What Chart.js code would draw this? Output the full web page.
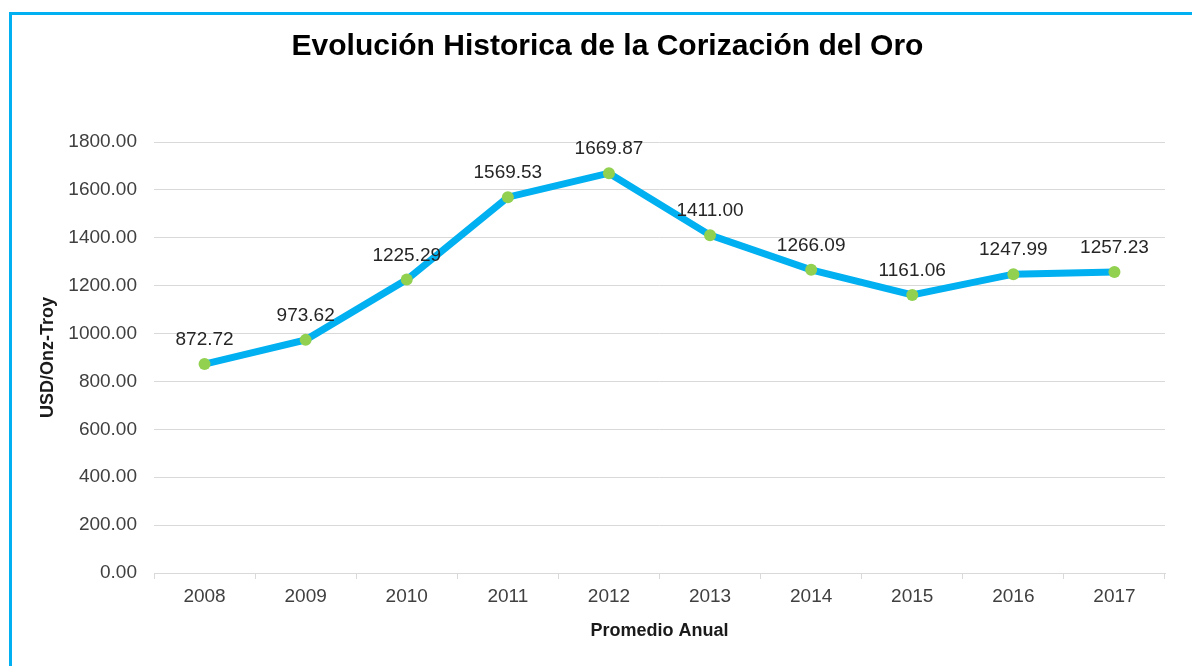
<!DOCTYPE html>
<html>
<head>
<meta charset="utf-8">
<script src="https://cdn.jsdelivr.net/npm/chart.js@4.4.1/dist/chart.umd.min.js"></script>
<style>
  html, body { margin: 0; padding: 0; background: #fff; }
  body { width: 1192px; height: 666px; position: relative; overflow: hidden; }
  #frame { position: absolute; left: 9px; top: 12px; right: 0; bottom: 0;
           border-top: 3px solid #00B0F0; border-left: 3px solid #00B0F0; }
  #wrap { position: absolute; left: 0; top: 0; width: 1192px; height: 666px; }
</style>
</head>
<body>
<div id="frame"></div>
<div id="wrap"><canvas id="c" width="1192" height="666"></canvas></div>
<script>
const chartTitle = "Evolución Historica de la Corización del Oro";
const years = ["2008","2009","2010","2011","2012","2013","2014","2015","2016","2017"];
const goldPrice = [872.72, 973.62, 1225.29, 1569.53, 1669.87, 1411.00, 1266.09, 1161.06, 1247.99, 1257.23];
const yTitle = "USD/Onz-Troy";
const xTitle = "Promedio Anual";
const yMin = 0, yMax = 1800, yStep = 200;

const FONT = "'Liberation Sans', Arial, sans-serif";

const labelPlugin = {
  id: 'pointLabels',
  afterDatasetsDraw(chart) {
    const ctx = chart.ctx;
    const meta = chart.getDatasetMeta(0);
    ctx.save();
    ctx.font = "19px " + FONT;
    ctx.fillStyle = "#262626";
    ctx.textAlign = "center";
    ctx.textBaseline = "middle";
    meta.data.forEach((pt, i) => {
      ctx.fillText(goldPrice[i].toFixed(2), pt.x, pt.y - 24);
    });
    ctx.restore();
  }
};

const LEFT = 50;

new Chart(document.getElementById('c'), {
  type: 'line',
  data: {
    labels: years,
    datasets: [{
      data: goldPrice,
      borderColor: '#00B0F0',
      borderWidth: 7,
      pointRadius: 6,
      pointHoverRadius: 6,
      pointBackgroundColor: '#92D050',
      pointBorderWidth: 0,
      tension: 0,
      fill: false
    }]
  },
  options: {
    responsive: false,
    animation: false,
    devicePixelRatio: 1,
    layout: { padding: { left: LEFT, right: 27, top: 0, bottom: 20 } },
    plugins: {
      legend: { display: false },
      tooltip: { enabled: false },
      title: {
        display: true,
        text: chartTitle,
        color: '#000',
        font: { family: FONT, size: 30, weight: 'bold', lineHeight: 1.2 },
        padding: { top: 29, bottom: 77 }
      }
    },
    scales: {
      x: {
        type: 'category',
        offset: true,
        grid: { drawOnChartArea: false, drawTicks: true, tickLength: 6, color: '#d9d9d9', offset: true },
        border: { display: true, color: '#d9d9d9', width: 1 },
        ticks: { color: '#404040', font: { family: FONT, size: 19 }, padding: 6, maxRotation: 0 },
        title: { display: true, text: xTitle, color: '#1a1a1a',
                 font: { family: FONT, size: 18, weight: 'bold', lineHeight: 1.2 },
                 padding: { top: 0, bottom: 4 } },
        afterFit(scale) { scale.height = 666 - 20 - 573; }
      },
      y: {
        min: yMin, max: yMax,
        grid: { drawTicks: false, color: '#d9d9d9', lineWidth: 1 },
        border: { display: false },
        ticks: { stepSize: yStep, color: '#404040', font: { family: FONT, size: 19 }, padding: 17,
                 callback: v => Number(v).toFixed(2) },
        title: { display: true, text: yTitle, color: '#1a1a1a',
                 font: { family: FONT, size: 18, weight: 'bold', lineHeight: 1.2 },
                 padding: { top: 48 - LEFT - 10.8, bottom: 0 } },
        afterFit(scale) { scale.width = 154 - LEFT; }
      }
    }
  },
  plugins: [labelPlugin]
});
</script>
</body>
</html>
